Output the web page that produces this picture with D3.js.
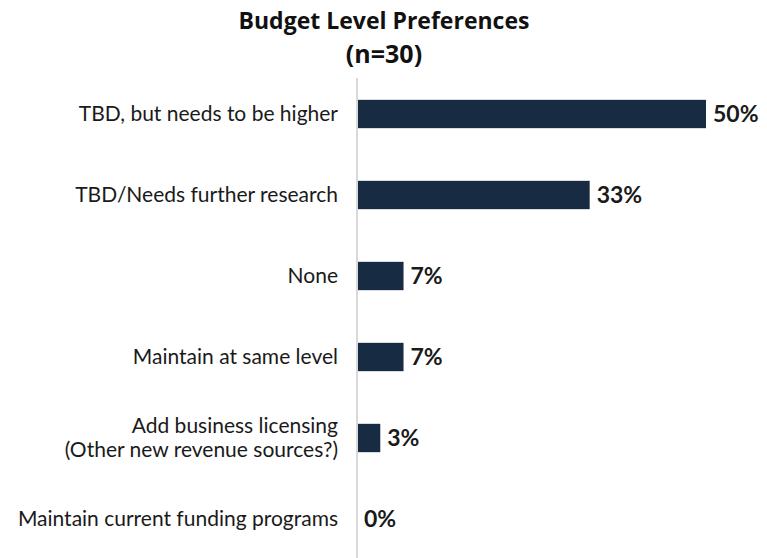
<!DOCTYPE html>
<html>
<head>
<meta charset="utf-8">
<script src="https://cdn.jsdelivr.net/npm/d3@7"></script>
<style>
  html, body { margin: 0; padding: 0; background: #ffffff; }
  svg { display: block; }
</style>
</head>
<body>
<svg id="chart" width="767" height="558"></svg>
<script>
// Survey responses (n = 30)
const categories = [
  "TBD, but needs to be higher",
  "TBD/Needs further research",
  "None",
  "Maintain at same level",
  "Add business licensing\n(Other new revenue sources?)",
  "Maintain current funding programs"
];
const counts = [15, 10, 2, 2, 1, 0];
const total = 30;
const shares = counts.map(c => c / total);

const titleLines = ["Budget Level Preferences", "(n=30)"];

const width = 767, height = 558;
const svg = d3.select("#chart");

const x = d3.scaleLinear().domain([0, 0.5]).range([357, 706]);
const y = d3.scaleBand().domain(categories).range([73.5, 559.5]).paddingInner(0.65).paddingOuter(0.325);

const pct = d3.format(".0%");
const barColor = "#172b43";
const labelFont = "Lato, 'Open Sans', sans-serif";

// Title
svg.append("g").selectAll("text")
  .data(titleLines)
  .join("text")
  .attr("x", 384)
  .attr("y", (d, i) => i === 0 ? 29 : 63)
  .attr("text-anchor", "middle")
  .attr("font-family", "'Open Sans', Lato, sans-serif")
  .attr("font-weight", 700)
  .attr("font-size", (d, i) => i === 0 ? 23 : 25)
  .attr("fill", "#111")
  .text(d => d);

// Vertical baseline
svg.append("line")
  .attr("x1", x(0)).attr("x2", x(0))
  .attr("y1", 78).attr("y2", height)
  .attr("stroke", "#d9d9d9")
  .attr("stroke-width", 2);

// Bars
svg.append("g").selectAll("rect")
  .data(categories)
  .join("rect")
  .attr("x", x(0) + 1)
  .attr("y", d => y(d))
  .attr("width", (d, i) => Math.max(0, x(shares[i]) - x(0) - 1))
  .attr("height", y.bandwidth())
  .attr("fill", barColor);

// Category labels (multi-line where needed)
const cat = svg.append("g").selectAll("text")
  .data(categories)
  .join("text")
  .attr("x", 338)
  .attr("y", d => y(d) + y.bandwidth() / 2)
  .attr("text-anchor", "end")
  .attr("font-family", labelFont)
  .attr("font-size", 21)
  .attr("fill", "#1a1a1a");
cat.each(function(d) {
  const lines = d.split("\n");
  const n = lines.length;
  d3.select(this).selectAll("tspan")
    .data(lines)
    .join("tspan")
    .attr("x", 338)
    .attr("dy", (l, i) => i === 0 ? `${0.35 - (n - 1) * 0.57}em` : "1.14em")
    .text(l => l);
});

// Value labels
svg.append("g").selectAll("text")
  .data(categories)
  .join("text")
  .attr("x", (d, i) => x(shares[i]) + 7)
  .attr("y", d => y(d) + y.bandwidth() / 2)
  .attr("dy", "0.36em")
  .attr("font-family", labelFont)
  .attr("font-weight", 700)
  .attr("font-size", 23)
  .attr("fill", "#1a1a1a")
  .text((d, i) => pct(shares[i]));
</script>
</body>
</html>
